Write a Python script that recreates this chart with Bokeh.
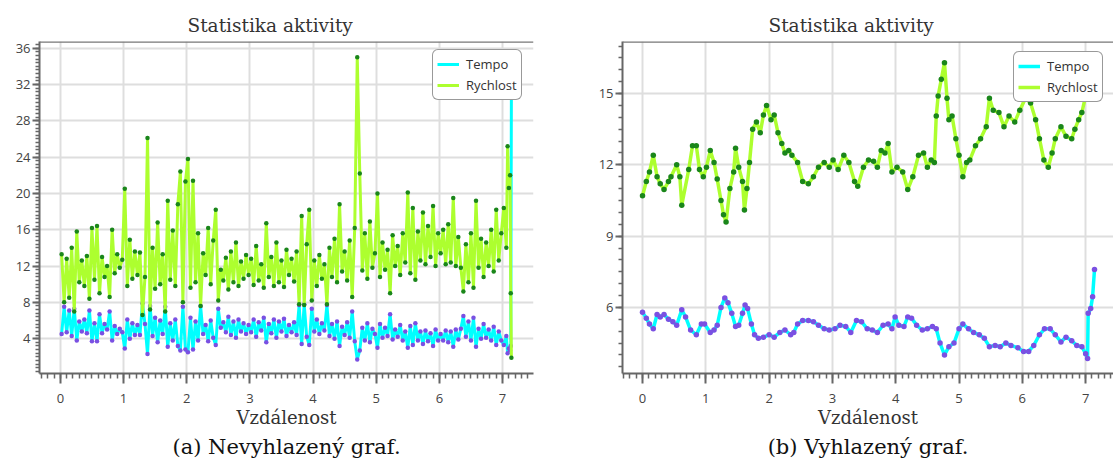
from bokeh.plotting import figure
from bokeh.models import Range1d, SingleIntervalTicker, Span, Legend, LegendItem, Title
from bokeh.layouts import row
from bokeh.embed import file_html
from bokeh.resources import INLINE

TITLE = "Statistika aktivity"
XLABEL = "Vzdálenost"
NAME_TEMPO = "Tempo"
NAME_SPEED = "Rychlost"
CAPTION_A = "(a) Nevyhlazený graf."
CAPTION_B = "(b) Vyhlazený graf."

# ---------- (a) raw data: distance [km], speed [km/h], pace [min/km]
raw_km = [
    0.02, 0.06, 0.10, 0.14, 0.18, 0.22, 0.26, 0.30, 0.34, 0.38, 0.42, 0.46, 0.50, 0.54, 0.58, 0.62, 0.66, 0.70, 0.74, 0.78, 0.82, 0.86, 0.90, 0.94, 0.98,
    1.02, 1.06, 1.10, 1.14, 1.18, 1.22, 1.26, 1.30, 1.34, 1.38, 1.42, 1.46, 1.50, 1.54, 1.58, 1.62, 1.66, 1.70, 1.74, 1.78, 1.82, 1.86, 1.90, 1.94, 1.98,
    2.02, 2.06, 2.10, 2.14, 2.18, 2.22, 2.26, 2.30, 2.34, 2.38, 2.42, 2.46, 2.50, 2.54, 2.58, 2.62, 2.66, 2.70, 2.74, 2.78, 2.82, 2.86, 2.90, 2.94, 2.98,
    3.02, 3.06, 3.10, 3.14, 3.18, 3.22, 3.26, 3.30, 3.34, 3.38, 3.42, 3.46, 3.50, 3.54, 3.58, 3.62, 3.66, 3.70, 3.74, 3.78, 3.82, 3.86, 3.90, 3.94, 3.98,
    4.02, 4.06, 4.10, 4.14, 4.18, 4.22, 4.26, 4.30, 4.34, 4.38, 4.42, 4.46, 4.50, 4.54, 4.58, 4.62, 4.66, 4.70, 4.74, 4.78, 4.82, 4.86, 4.90, 4.94, 4.98,
    5.02, 5.06, 5.10, 5.14, 5.18, 5.22, 5.26, 5.30, 5.34, 5.38, 5.42, 5.46, 5.50, 5.54, 5.58, 5.62, 5.66, 5.70, 5.74, 5.78, 5.82, 5.86, 5.90, 5.94, 5.98,
    6.02, 6.06, 6.10, 6.14, 6.18, 6.22, 6.26, 6.30, 6.34, 6.38, 6.42, 6.46, 6.50, 6.54, 6.58, 6.62, 6.66, 6.70, 6.74, 6.78, 6.82, 6.86, 6.90, 6.94, 6.98,
    7.02, 7.06, 7.08, 7.10, 7.12, 7.13, 7.14,
]
raw_speed = [
    13.3, 8.0, 12.8, 8.5, 14.0, 7.0, 15.8, 10.2, 12.6, 9.8, 13.1, 8.4, 16.2, 10.5, 16.4, 9.0, 13.0, 10.8, 12.0, 8.6, 16.0, 11.2, 13.3, 11.8, 12.7,
    20.5, 9.8, 14.9, 10.6, 13.6, 11.0, 13.5, 6.6, 10.8, 26.1, 7.2, 14.0, 9.5, 16.8, 10.0, 13.3, 7.0, 19.2, 10.5, 15.9, 9.8, 18.8, 22.4, 8.0, 21.3,
    23.8, 9.6, 21.4, 10.2, 15.6, 7.6, 13.4, 11.0, 16.2, 10.0, 14.8, 18.2, 8.2, 11.6, 10.4, 12.9, 9.4, 13.6, 10.2, 14.6, 9.8, 12.5, 10.6, 13.2, 11.0,
    12.8, 9.9, 14.2, 10.4, 12.2, 9.6, 16.7, 10.8, 13.0, 9.8, 14.6, 10.2, 12.6, 9.7, 13.8, 11.0, 12.8, 10.3, 13.6, 7.8, 17.5, 7.7, 14.4, 18.2, 8.2,
    12.6, 9.8, 13.2, 10.6, 12.2, 7.8, 14.0, 10.8, 15.0, 10.2, 18.8, 11.4, 13.6, 10.4, 14.8, 8.6, 16.2, 35.0, 22.2, 11.5, 15.6, 10.6, 16.9, 11.8, 13.4,
    20.0, 10.8, 14.6, 11.6, 13.8, 9.0, 15.4, 12.0, 14.2, 11.0, 15.6, 12.4, 20.1, 11.2, 18.4, 10.5, 15.8, 12.6, 17.9, 12.2, 16.4, 13.0, 18.6, 12.0, 15.6,
    13.4, 16.0, 12.2, 16.6, 12.4, 19.5, 12.0, 15.2, 11.8, 9.2, 14.4, 10.2, 15.6, 9.6, 19.2, 11.8, 15.0, 10.8, 14.6, 12.0, 16.0, 11.4, 18.2, 12.6, 15.6,
    18.4, 14.0, 25.2, 20.6, 22.0, 9.0, 1.9,
]
raw_tempo = [
    4.5, 7.5, 4.7, 7.1, 4.3, 7.3, 3.8, 5.9, 4.8, 6.1, 4.6, 7.1, 3.7, 5.7, 3.7, 6.7, 4.6, 5.6, 5.0, 7.0, 3.8, 5.4, 4.5, 5.1, 4.7,
    2.9, 6.1, 4.0, 5.7, 4.4, 5.5, 4.4, 7.9, 5.6, 2.3, 7.6, 4.3, 6.3, 3.6, 6.0, 4.5, 7.5, 3.1, 5.7, 3.8, 6.1, 3.2, 2.7, 7.5, 2.8,
    2.5, 6.3, 2.8, 5.9, 3.8, 7.6, 4.5, 5.5, 3.7, 6.0, 4.1, 3.3, 7.3, 5.2, 5.8, 4.7, 6.4, 4.4, 5.9, 4.1, 6.1, 4.8, 5.7, 4.5, 5.5,
    4.7, 6.1, 4.2, 5.8, 4.9, 6.3, 3.6, 5.6, 4.6, 6.1, 4.1, 5.9, 4.8, 6.2, 4.3, 5.5, 4.7, 5.8, 4.4, 7.7, 3.4, 7.8, 4.2, 3.3, 7.3,
    4.8, 6.1, 4.5, 5.7, 4.9, 7.7, 4.3, 5.6, 4.0, 5.9, 3.2, 5.3, 4.4, 5.8, 4.1, 7.0, 3.7, 1.7, 2.7, 5.2, 3.8, 5.7, 3.6, 5.1, 4.5,
    3.0, 5.6, 4.1, 5.2, 4.3, 6.7, 3.9, 5.0, 4.2, 5.5, 3.8, 4.8, 3.0, 5.4, 3.3, 5.7, 3.8, 4.8, 3.4, 4.9, 3.7, 4.6, 3.2, 5.0, 3.8,
    4.5, 3.8, 4.9, 3.6, 4.8, 3.1, 5.0, 3.9, 5.1, 6.5, 4.2, 5.9, 3.8, 6.3, 3.1, 5.1, 4.0, 5.6, 4.1, 5.0, 3.8, 5.3, 3.3, 4.8, 3.8,
    3.3, 4.3, 2.4, 2.9, 2.7, 3.2, 31.0,
]

# ---------- (b) smoothed data
smooth_speed_km = [
    0.00, 0.06, 0.11, 0.17, 0.23, 0.28, 0.34, 0.41, 0.45, 0.54, 0.59, 0.62, 0.73, 0.79, 0.85, 0.90, 0.96,
    1.01, 1.07, 1.13, 1.18, 1.24, 1.28, 1.32, 1.38, 1.44, 1.47, 1.52, 1.58, 1.61, 1.65, 1.69, 1.74, 1.80, 1.86, 1.91, 1.96,
    2.03, 2.08, 2.14, 2.20, 2.25, 2.31, 2.36, 2.45, 2.53, 2.62, 2.70, 2.78, 2.87, 2.95,
    3.01, 3.09, 3.18, 3.26, 3.35, 3.40, 3.49, 3.57, 3.65, 3.71, 3.77, 3.83, 3.88, 3.94,
    4.02, 4.11, 4.19, 4.27, 4.36, 4.44, 4.50, 4.56, 4.61, 4.64, 4.67, 4.72, 4.77, 4.81, 4.84, 4.89, 4.95,
    5.00, 5.06, 5.12, 5.17, 5.26, 5.34, 5.43, 5.48, 5.54, 5.63, 5.71, 5.79, 5.88, 5.96,
    6.05, 6.13, 6.21, 6.27, 6.34, 6.41, 6.47, 6.52, 6.61, 6.69, 6.78, 6.83, 6.89, 6.94, 7.00, 7.05,
]
smooth_speed = [
    10.7, 11.3, 11.7, 12.4, 11.5, 11.2, 10.96, 11.3, 11.5, 12.0, 11.5, 10.3, 11.8, 12.8, 12.8, 11.8, 11.5,
    11.9, 12.6, 12.1, 11.4, 10.5, 9.9, 9.6, 11.0, 11.7, 12.7, 11.9, 11.3, 10.1, 11.0, 12.1, 13.5, 13.8, 13.35, 14.1, 14.5,
    13.9, 14.1, 13.35, 12.9, 12.5, 12.6, 12.4, 12.1, 11.3, 11.2, 11.5, 11.9, 12.1, 11.9,
    12.2, 11.8, 12.4, 12.1, 11.3, 11.1, 11.9, 12.2, 12.15, 11.9, 12.6, 12.5, 12.9, 11.7,
    11.9, 11.7, 10.96, 11.5, 12.4, 12.5, 11.9, 12.2, 12.1, 14.05, 14.9, 15.6, 16.3, 14.8, 13.9, 14.05, 13.1,
    12.4, 11.5, 12.1, 12.2, 12.8, 13.1, 13.6, 14.8, 14.3, 14.2, 13.6, 14.05, 13.8, 14.3,
    14.8, 14.6, 13.9, 13.1, 12.2, 11.9, 12.5, 13.1, 13.6, 13.2, 13.1, 13.5, 13.9, 14.2, 14.9, 15.5,
]
smooth_tempo_km = [
    0.00, 0.06, 0.11, 0.17, 0.23, 0.28, 0.34, 0.41, 0.48, 0.54, 0.62, 0.68, 0.76, 0.85, 0.93, 0.98,
    1.07, 1.13, 1.18, 1.24, 1.30, 1.35, 1.41, 1.47, 1.52, 1.58, 1.62, 1.66, 1.72, 1.77, 1.83, 1.91,
    2.00, 2.08, 2.17, 2.25, 2.34, 2.39, 2.45, 2.53, 2.62, 2.70, 2.78, 2.87, 2.95,
    3.04, 3.12, 3.21, 3.29, 3.38, 3.46, 3.55, 3.63, 3.71, 3.80, 3.88, 3.94, 3.99,
    4.05, 4.13, 4.19, 4.25, 4.33, 4.42, 4.50, 4.58, 4.64, 4.70, 4.77, 4.84, 4.92,
    5.00, 5.06, 5.15, 5.23, 5.32, 5.40, 5.48, 5.57, 5.65, 5.74, 5.82, 5.93,
    6.02, 6.10, 6.18, 6.27, 6.35, 6.44, 6.52, 6.61, 6.69, 6.78, 6.86, 6.94,
    7.00, 7.03, 7.04, 7.08, 7.11, 7.14,
]
smooth_tempo = [
    5.8, 5.55, 5.3, 5.1, 5.7, 5.6, 5.7, 5.5, 5.4, 5.25, 5.9, 5.6, 5.05, 4.85, 5.3, 5.3,
    4.95, 5.05, 5.25, 6.0, 6.4, 6.2, 5.75, 5.2, 5.25, 5.75, 6.1, 5.95, 5.3, 4.85, 4.7, 4.75,
    4.85, 4.75, 4.95, 5.05, 4.85, 4.95, 5.3, 5.45, 5.45, 5.4, 5.25, 5.1, 5.05,
    5.1, 5.25, 5.2, 4.95, 5.45, 5.4, 5.1, 5.05, 4.95, 5.25, 5.3, 5.1, 5.6,
    5.25, 5.2, 5.6, 5.55, 5.25, 5.05, 5.1, 5.2, 5.1, 4.5, 4.0, 4.35, 4.5,
    5.1, 5.3, 5.1, 4.95, 4.85, 4.7, 4.35, 4.4, 4.35, 4.5, 4.4, 4.3,
    4.15, 4.15, 4.4, 4.85, 5.1, 5.1, 4.85, 4.55, 4.75, 4.6, 4.4, 4.35,
    4.05, 3.85, 5.75, 5.95, 6.45, 7.6,
]

CYAN = "#00ffff"
LIME = "#adff2f"
DOT_GREEN = "#1a861a"
DOT_PURPLE = "#7a50e2"
AXIS_COL = "#666666"
GRID_COL = "#dedede"


def make_chart(km_t, tempo, km_s, speed, xr, yr, y_step, y_minor, caption,
               width, mb_left, mb_right, mb_bottom, title_offset, legend_loc,
               line_w, dot_size):
    p = figure(width=width, height=462, output_backend="svg", toolbar_location=None,
               x_range=Range1d(*xr), y_range=Range1d(*yr),
               min_border_left=mb_left, min_border_right=mb_right,
               min_border_top=41, min_border_bottom=mb_bottom)
    p.outline_line_color = None
    p.background_fill_color = "white"
    p.border_fill_color = "white"

    p.title.text = TITLE
    p.title.text_font = "DejaVu Serif"
    p.title.text_font_size = "18.5px"
    p.title.text_font_style = "normal"
    p.title.text_color = "#333333"
    p.title.align = "left"
    p.title.offset = title_offset
    p.title.standoff = 12

    p.xaxis.ticker = SingleIntervalTicker(interval=1, num_minor_ticks=10)
    p.yaxis.ticker = SingleIntervalTicker(interval=y_step, num_minor_ticks=y_minor)
    for ax in (p.xaxis[0], p.yaxis[0]):
        ax.axis_line_color = AXIS_COL
        ax.axis_line_width = 2
        ax.major_tick_line_color = AXIS_COL
        ax.major_tick_line_width = 2
        ax.minor_tick_line_color = AXIS_COL
        ax.minor_tick_line_width = 1.5
        ax.major_tick_in = 0
        ax.minor_tick_in = 0
        ax.major_label_text_font = "Open Sans"
        ax.major_label_text_font_size = "13px"
        ax.major_label_text_color = "#444444"
    p.xaxis.major_tick_out = 10
    p.xaxis.minor_tick_out = 5
    p.xaxis.major_label_standoff = 10
    p.yaxis.major_tick_out = 7
    p.yaxis.minor_tick_out = 4
    p.yaxis.major_label_standoff = 2

    p.xaxis.axis_label = XLABEL
    p.xaxis.axis_label_text_font = "DejaVu Serif"
    p.xaxis.axis_label_text_font_size = "18px"
    p.xaxis.axis_label_text_font_style = "normal"
    p.xaxis.axis_label_text_color = "#333333"
    p.xaxis.axis_label_standoff = 1

    p.xgrid.grid_line_color = GRID_COL
    p.xgrid.grid_line_width = 2
    p.ygrid.grid_line_color = GRID_COL
    p.ygrid.grid_line_width = 2

    p.add_layout(Span(location=yr[1], dimension="width", line_color="#777777", line_width=2.5))

    t_line = p.line(km_t, tempo, line_color=CYAN, line_width=line_w)
    p.scatter(km_t, tempo, size=dot_size, fill_color=DOT_PURPLE, line_color=None)
    s_line = p.line(km_s, speed, line_color=LIME, line_width=line_w)
    p.scatter(km_s, speed, size=dot_size, fill_color=DOT_GREEN, line_color=None)

    legend = Legend(items=[LegendItem(label=NAME_TEMPO, renderers=[t_line]),
                           LegendItem(label=NAME_SPEED, renderers=[s_line])],
                    location=legend_loc, margin=0, padding=4, spacing=1,
                    glyph_width=22, glyph_height=20, label_height=20, label_standoff=7,
                    label_text_font="Open Sans", label_text_font_size="13px",
                    label_text_color="#333333",
                    border_line_color="#333333", border_line_width=1.5,
                    background_fill_color="white", background_fill_alpha=1.0)
    try:
        legend.border_radius = 6
    except Exception:
        pass
    p.add_layout(legend)

    cap = Title(text=caption, align="center", text_font="DejaVu Serif",
                text_font_size="21px", text_font_style="normal",
                text_color="#111111", standoff=4)
    p.add_layout(cap, "below")
    return p


p1 = make_chart(raw_km, raw_tempo, raw_km, raw_speed,
                (-0.33, 7.49), (0.16, 36.73), 4, 10, CAPTION_A,
                width=560, mb_left=39, mb_right=27, mb_bottom=87,
                title_offset=148, legend_loc=(393, 273), line_w=3, dot_size=4.5)
p2 = make_chart(smooth_tempo_km, smooth_tempo, smooth_speed_km, smooth_speed,
                (-0.316, 7.44), (3.22, 17.19), 3, 6, CAPTION_B,
                width=553, mb_left=62, mb_right=0, mb_bottom=89,
                title_offset=146, legend_loc=(391, 271), line_w=3.5, dot_size=5.5)

layout = row(p1, p2)
open("out.html", "w").write(file_html(layout, INLINE))
